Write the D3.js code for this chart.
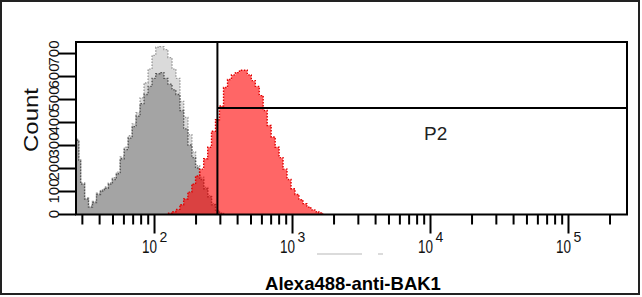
<!DOCTYPE html>
<html>
<head>
<meta charset="utf-8">
<script src="https://cdn.jsdelivr.net/npm/d3@7"></script>
<style>
  html, body { margin: 0; padding: 0; background: #fff; }
  svg { display: block; font-family: "Liberation Sans", Arial, sans-serif; }
</style>
</head>
<body>
<svg id="chart"></svg>
<script>
// Histogram data (fluorescence intensity, events per bin)
const controlX = [27.5, 28.5, 29.4, 31.4, 33.5, 35.8, 38.3, 40.9, 43.7, 46.7, 49.9, 53.3, 56.9, 60.8, 65.0, 69.5, 74.2, 79.3, 84.7, 90.6, 96.8, 103, 110, 118, 126, 135, 144, 154, 164, 176, 188, 200, 214, 229, 245, 261, 279, 298, 319];
const controlLight = [325, 235, 135, 70, 35, 55, 90, 105, 118, 135, 158, 182, 248, 290, 340, 392, 440, 505, 570, 630, 690, 725, 728, 715, 680, 630, 590, 490, 420, 345, 270, 210, 160, 115, 80, 45, 15, 3, 0];
const controlDark = [320, 230, 130, 65, 30, 50, 85, 100, 112, 130, 150, 175, 240, 280, 330, 380, 425, 480, 520, 555, 590, 610, 615, 590, 565, 540, 520, 450, 370, 300, 245, 200, 150, 110, 75, 40, 12, 2, 0];

const bakX = [126, 135, 144, 154, 164, 176, 188, 200, 214, 229, 245, 261, 279, 298, 319, 341, 364, 389, 416, 444, 474, 507, 542, 579, 618, 661, 706, 755, 806, 861, 920, 984, 1051, 1123, 1200, 1282, 1370, 1463, 1563, 1670];
const bakCounts = [3, 10, 20, 40, 65, 95, 130, 165, 195, 240, 290, 360, 410, 470, 550, 585, 605, 615, 625, 625, 605, 580, 555, 515, 450, 385, 335, 290, 245, 195, 150, 110, 85, 62, 45, 30, 18, 10, 5, 0];

// Axes
const xDomain = [27.2, 267700];
const yDomain = [0, 748];
const yTicks = [0, 100, 200, 300, 400, 500, 600, 700];
const xMajor = [100, 1000, 10000, 100000];
const xMajorExp = ["2", "3", "4", "5"];

// Gate P2
const gateMin = 288;
const gateLevel = 461;
const gateName = "P2";

const width = 642;
const height = 297;

const svg = d3.select("#chart")
  .attr("width", width)
  .attr("height", height);

const xScale = d3.scaleLog().domain(xDomain).range([76, 627]);
const yScale = d3.scaleLinear().domain(yDomain).range([214, 42]);

// outer border
svg.append("rect")
  .attr("x", 1).attr("y", 1)
  .attr("width", 638).attr("height", 293)
  .attr("fill", "none")
  .attr("stroke", "#222")
  .attr("stroke-width", 2);

const toPts = (xs, ys) => xs.map((x, i) => [x, ys[i]]);

const area = d3.area()
  .x(d => xScale(d[0]))
  .y0(yScale(0))
  .y1(d => yScale(d[1]))
  .curve(d3.curveStepAfter);

const line = d3.line()
  .x(d => xScale(d[0]))
  .y(d => yScale(d[1]))
  .curve(d3.curveStepAfter);

const plot = svg.append("g");

const series = [
  { pts: toPts(controlX, controlLight), fill: "#dadada", stroke: "#9a9a9a", op: 1 },
  { pts: toPts(controlX, controlDark), fill: "#a4a4a4", stroke: "#555", op: 1 },
  { pts: toPts(bakX, bakCounts), fill: "#ff0000", stroke: "#e00000", op: 0.6 }
];

series.forEach(s => {
  plot.append("path")
    .attr("d", area(s.pts))
    .attr("fill", s.fill)
    .attr("fill-opacity", s.op);
  plot.append("path")
    .attr("d", line(s.pts))
    .attr("fill", "none")
    .attr("stroke", s.stroke)
    .attr("stroke-width", 1.4)
    .attr("stroke-dasharray", "1.5,1.5");
});

// gate lines
svg.append("line")
  .attr("x1", xScale(gateMin)).attr("x2", xScale(gateMin))
  .attr("y1", yScale(yDomain[1])).attr("y2", yScale(0))
  .attr("stroke", "#000").attr("stroke-width", 2);
svg.append("line")
  .attr("x1", xScale(gateMin)).attr("x2", xScale(xDomain[1]))
  .attr("y1", yScale(gateLevel)).attr("y2", yScale(gateLevel))
  .attr("stroke", "#000").attr("stroke-width", 2);
svg.append("text")
  .attr("x", 424).attr("y", 140)
  .attr("font-size", 19)
  .attr("fill", "#222")
  .text(gateName);

// frame
svg.append("rect")
  .attr("x", 76).attr("y", 42)
  .attr("width", 551).attr("height", 172.5)
  .attr("fill", "none")
  .attr("stroke", "#000")
  .attr("stroke-width", 2);

// x axis: minor and major ticks
const minor = xScale.ticks().filter(t => !xMajor.includes(t));
const xMinorAxis = d3.axisBottom(xScale).tickValues(minor).tickSize(10).tickFormat("");
const xMajorAxis = d3.axisBottom(xScale).tickValues(xMajor).tickSize(19).tickFormat("");

[xMinorAxis, xMajorAxis].forEach(ax => {
  const g = svg.append("g")
    .attr("transform", "translate(0,214.5)")
    .call(ax);
  g.select(".domain").remove();
  g.selectAll("line").attr("stroke", "#000").attr("stroke-width", 2);
});

// 10^n labels, one text each with a raised exponent
xMajor.forEach((v, i) => {
  const x = xScale(v);
  const t = svg.append("text")
    .attr("x", x - 12).attr("y", 253)
    .attr("fill", "#111");
  t.append("tspan")
    .attr("font-size", 19)
    .attr("textLength", 15)
    .attr("lengthAdjust", "spacingAndGlyphs")
    .text("10");
  t.append("tspan")
    .attr("font-size", 14)
    .attr("dx", 2.5)
    .attr("dy", -11)
    .text(xMajorExp[i]);
});

// faint remnant under 10^3
svg.append("line")
  .attr("x1", 317).attr("x2", 383)
  .attr("y1", 254).attr("y2", 254)
  .attr("stroke", "#cfcfcf")
  .attr("stroke-width", 1.5)
  .attr("stroke-dasharray", "45,16,5,40");

svg.append("text")
  .attr("x", 353).attr("y", 290)
  .attr("text-anchor", "middle")
  .attr("font-size", 18.5)
  .attr("font-weight", "bold")
  .attr("fill", "#000")
  .text("Alexa488-anti-BAK1");

// y axis
const yAxis = d3.axisLeft(yScale).tickValues(yTicks).tickSize(18).tickFormat("");
const gy = svg.append("g")
  .attr("transform", "translate(76,0)")
  .call(yAxis);
gy.select(".domain").remove();
gy.selectAll("line").attr("stroke", "#000").attr("stroke-width", 2);

yTicks.forEach(t => {
  svg.append("text")
    .attr("transform", `translate(58.5,${yScale(t)}) rotate(-90)`)
    .attr("text-anchor", "middle")
    .attr("font-size", 15)
    .attr("fill", "#111")
    .text(t);
});

svg.append("text")
  .attr("transform", "translate(38,120) rotate(-90)")
  .attr("text-anchor", "middle")
  .attr("font-size", 21)
  .attr("textLength", 64)
  .attr("lengthAdjust", "spacingAndGlyphs")
  .attr("fill", "#111")
  .text("Count");
</script>
</body>
</html>
